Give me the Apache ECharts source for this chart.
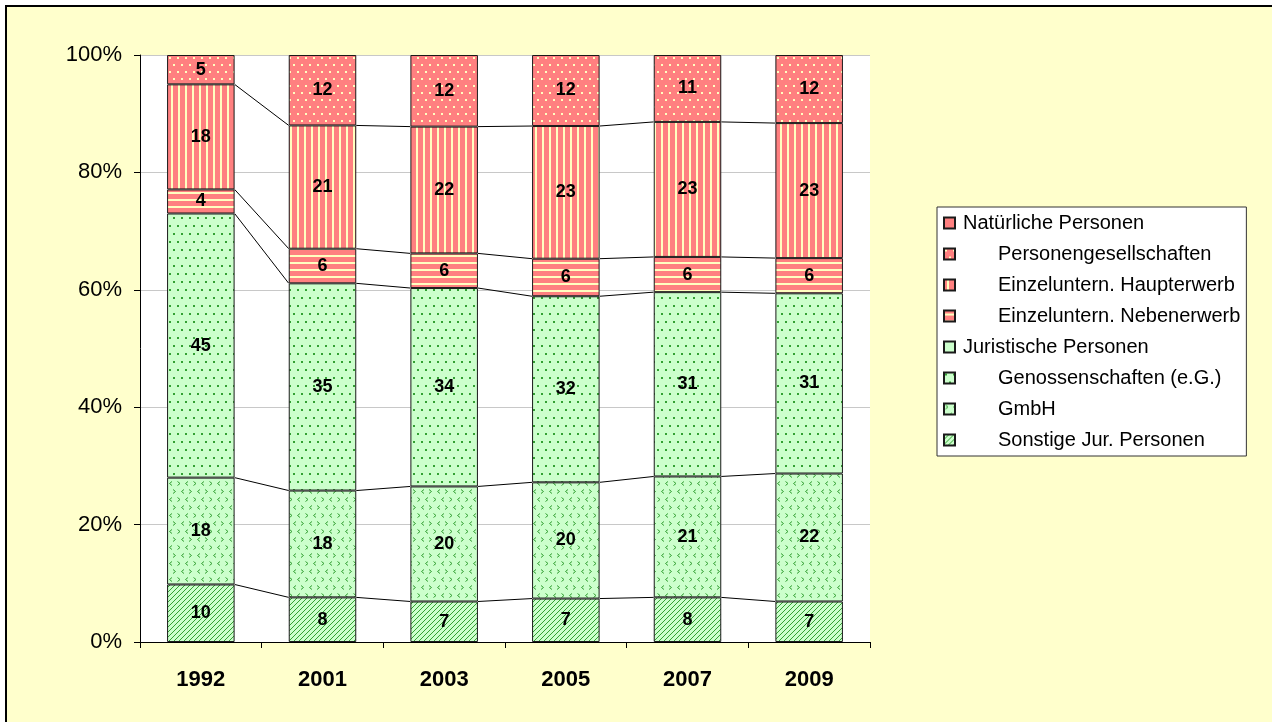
<!DOCTYPE html>
<html>
<head>
<meta charset="utf-8">
<script src="https://cdn.jsdelivr.net/npm/echarts@6/dist/echarts.min.js"></script>
<style>
html,body{margin:0;padding:0;background:#fff;}
#c{width:1272px;height:722px;}
</style>
</head>
<body>
<div id="c"></div>
<script>
// ---- data ----
const categories = ['1992', '2001', '2003', '2005', '2007', '2009'];
const sonstige = [9.8, 7.6, 6.9, 7.4, 7.6, 6.9];
const gmbh = [18.2, 18.2, 19.6, 19.8, 20.6, 21.8];
const genossen = [45.0, 35.3, 33.8, 31.7, 31.4, 30.7];
const neben = [4.1, 5.9, 5.9, 6.4, 6.0, 6.0];
const haupt = [17.9, 21.0, 21.6, 22.6, 23.0, 23.0];
const personen = [5.0, 12.0, 12.2, 12.1, 11.4, 11.6];
const yTicks = [0, 20, 40, 60, 80, 100];
const legendNames = ['Natürliche Personen', 'Personengesellschaften', 'Einzeluntern. Haupterwerb',
  'Einzeluntern. Nebenerwerb', 'Juristische Personen', 'Genossenschaften (e.G.)', 'GmbH', 'Sonstige Jur. Personen'];
const headerNames = ['Natürliche Personen', 'Juristische Personen'];

// ---- styles ----
const FONT = 'Arial, "Liberation Sans", sans-serif';
const RED = '#FF8080', PALE = '#FFFFC0', LG = '#CCFFCC', DG = '#33A033';
const BAR_FRAC = 0.555;

function pattern(w, h, bg, draw) {
  const c = document.createElement('canvas');
  c.width = w; c.height = h;
  const ctx = c.getContext('2d');
  ctx.fillStyle = bg; ctx.fillRect(0, 0, w, h);
  draw(ctx);
  return { image: c, repeat: 'repeat' };
}
const pPers = pattern(8, 14, RED, ctx => {
  ctx.fillStyle = PALE; ctx.fillRect(1, 1, 2, 2); ctx.fillRect(5, 8, 2, 2);
});
const pHaupt = pattern(7, 7, RED, ctx => {
  ctx.fillStyle = PALE; ctx.fillRect(3, 0, 2, 7);
});
const pNeben = pattern(7, 7, RED, ctx => {
  ctx.fillStyle = PALE; ctx.fillRect(0, 3, 7, 2);
});
const pGen = pattern(8, 16, LG, ctx => {
  ctx.fillStyle = DG; ctx.fillRect(1, 1, 2, 2); ctx.fillRect(5, 9, 2, 2);
});
const pGmbh = pattern(16, 16, LG, ctx => {
  ctx.strokeStyle = DG; ctx.lineWidth = 1;
  function gt(x, y) { ctx.beginPath(); ctx.moveTo(x, y); ctx.lineTo(x + 2.5, y + 2); ctx.lineTo(x, y + 4); ctx.stroke(); }
  function lt(x, y) { ctx.beginPath(); ctx.moveTo(x + 2.5, y); ctx.lineTo(x, y + 2); ctx.lineTo(x + 2.5, y + 4); ctx.stroke(); }
  gt(1.5, 1.5); lt(9.5, 1.5); lt(5.5, 9.5); gt(13, 9.5);
});
const pSon = pattern(5, 5, LG, ctx => {
  ctx.strokeStyle = DG; ctx.lineWidth = 1;
  ctx.beginPath(); ctx.moveTo(-1, 6); ctx.lineTo(6, -1); ctx.stroke();
  ctx.beginPath(); ctx.moveTo(-1, 1); ctx.lineTo(1, -1); ctx.stroke();
  ctx.beginPath(); ctx.moveTo(4, 6); ctx.lineTo(6, 4); ctx.stroke();
});

const labelCfg = {
  show: true, position: 'inside', color: '#000', fontWeight: 'bold', fontSize: 18, fontFamily: FONT,
  formatter: p => String(Math.round(p.value))
};
function barSeries(name, data, fill) {
  return {
    name, type: 'bar', stack: 'total', data, barWidth: (BAR_FRAC * 100) + '%',
    itemStyle: { color: fill, borderColor: '#1a1a1a', borderWidth: 1 },
    label: labelCfg, emphasis: { disabled: true }
  };
}

// series lines (connectors between bar segment tops)
const stacks = [sonstige, gmbh, genossen, neben, haupt];
const lineData = [];
for (let i = 0; i < categories.length - 1; i++) {
  let c1 = 0, c2 = 0;
  for (const s of stacks) { c1 += s[i]; c2 += s[i + 1]; lineData.push([i, c1, c2]); }
}

const chart = echarts.init(document.getElementById('c'), null, { renderer: 'canvas' });
chart.setOption({
  animation: false,
  backgroundColor: '#fff',
  textStyle: { fontFamily: FONT },
  graphic: {
    elements: [{
      type: 'rect', z: -100, silent: true,
      shape: { x: 6, y: 6, width: 1300, height: 800 },
      style: { fill: '#FFFFCC', stroke: '#000', lineWidth: 2 }
    }]
  },
  grid: { left: 140, top: 55, right: 402, bottom: 80, show: true, backgroundColor: '#fff', borderWidth: 0 },
  xAxis: {
    type: 'category', data: categories,
    axisLine: { lineStyle: { color: '#000', width: 1 } },
    axisTick: { show: true, length: 6, lineStyle: { color: '#000' } },
    axisLabel: { color: '#000', fontWeight: 'bold', fontSize: 22, fontFamily: FONT, margin: 27 }
  },
  yAxis: {
    type: 'value', min: yTicks[0], max: yTicks[yTicks.length - 1], interval: yTicks[1] - yTicks[0],
    axisLine: { show: true, lineStyle: { color: '#000', width: 1 } },
    axisTick: { show: true, length: 6, lineStyle: { color: '#000' } },
    axisLabel: { color: '#000', fontSize: 22, fontFamily: FONT, margin: 18, formatter: '{value}%' },
    splitLine: { lineStyle: { color: '#C8C8C8', width: 1 } }
  },
  legend: {
    orient: 'vertical', left: 937, top: 207, padding: [6, 6, 6, 6],
    backgroundColor: '#fff', borderColor: '#333', borderWidth: 1,
    itemWidth: 11, itemHeight: 11, itemGap: 11, icon: 'rect', selectedMode: false,
    data: legendNames,
    formatter: n => headerNames.includes(n) ? '{h|' + n + '}' : '{i|' + n + '}',
    textStyle: {
      color: '#000', fontSize: 20, fontFamily: FONT,
      rich: {
        h: { fontSize: 20, fontFamily: FONT, color: '#000', padding: [0, 0, 0, 3] },
        i: { fontSize: 20, fontFamily: FONT, color: '#000', padding: [0, 0, 0, 38] }
      }
    }
  },
  series: [
    barSeries('Sonstige Jur. Personen', sonstige, pSon),
    barSeries('GmbH', gmbh, pGmbh),
    barSeries('Genossenschaften (e.G.)', genossen, pGen),
    barSeries('Einzeluntern. Nebenerwerb', neben, pNeben),
    barSeries('Einzeluntern. Haupterwerb', haupt, pHaupt),
    barSeries('Personengesellschaften', personen, pPers),
    { name: 'Natürliche Personen', type: 'bar', stack: 'total', data: [], itemStyle: { color: RED, borderColor: '#1a1a1a', borderWidth: 1 } },
    { name: 'Juristische Personen', type: 'bar', stack: 'total', data: [], itemStyle: { color: LG, borderColor: '#1a1a1a', borderWidth: 1 } },
    {
      type: 'custom', silent: true, z: 3, data: lineData, encode: { x: 0, y: 1 },
      renderItem: (params, api) => {
        const i = api.value(0);
        const a = api.coord([i, api.value(1)]);
        const b = api.coord([i + 1, api.value(2)]);
        const hw = api.size([1, 0])[0] * BAR_FRAC / 2;
        return { type: 'line', shape: { x1: a[0] + hw, y1: a[1], x2: b[0] - hw, y2: b[1] }, style: { stroke: '#000', lineWidth: 1 } };
      }
    }
  ]
});
</script>
</body>
</html>
